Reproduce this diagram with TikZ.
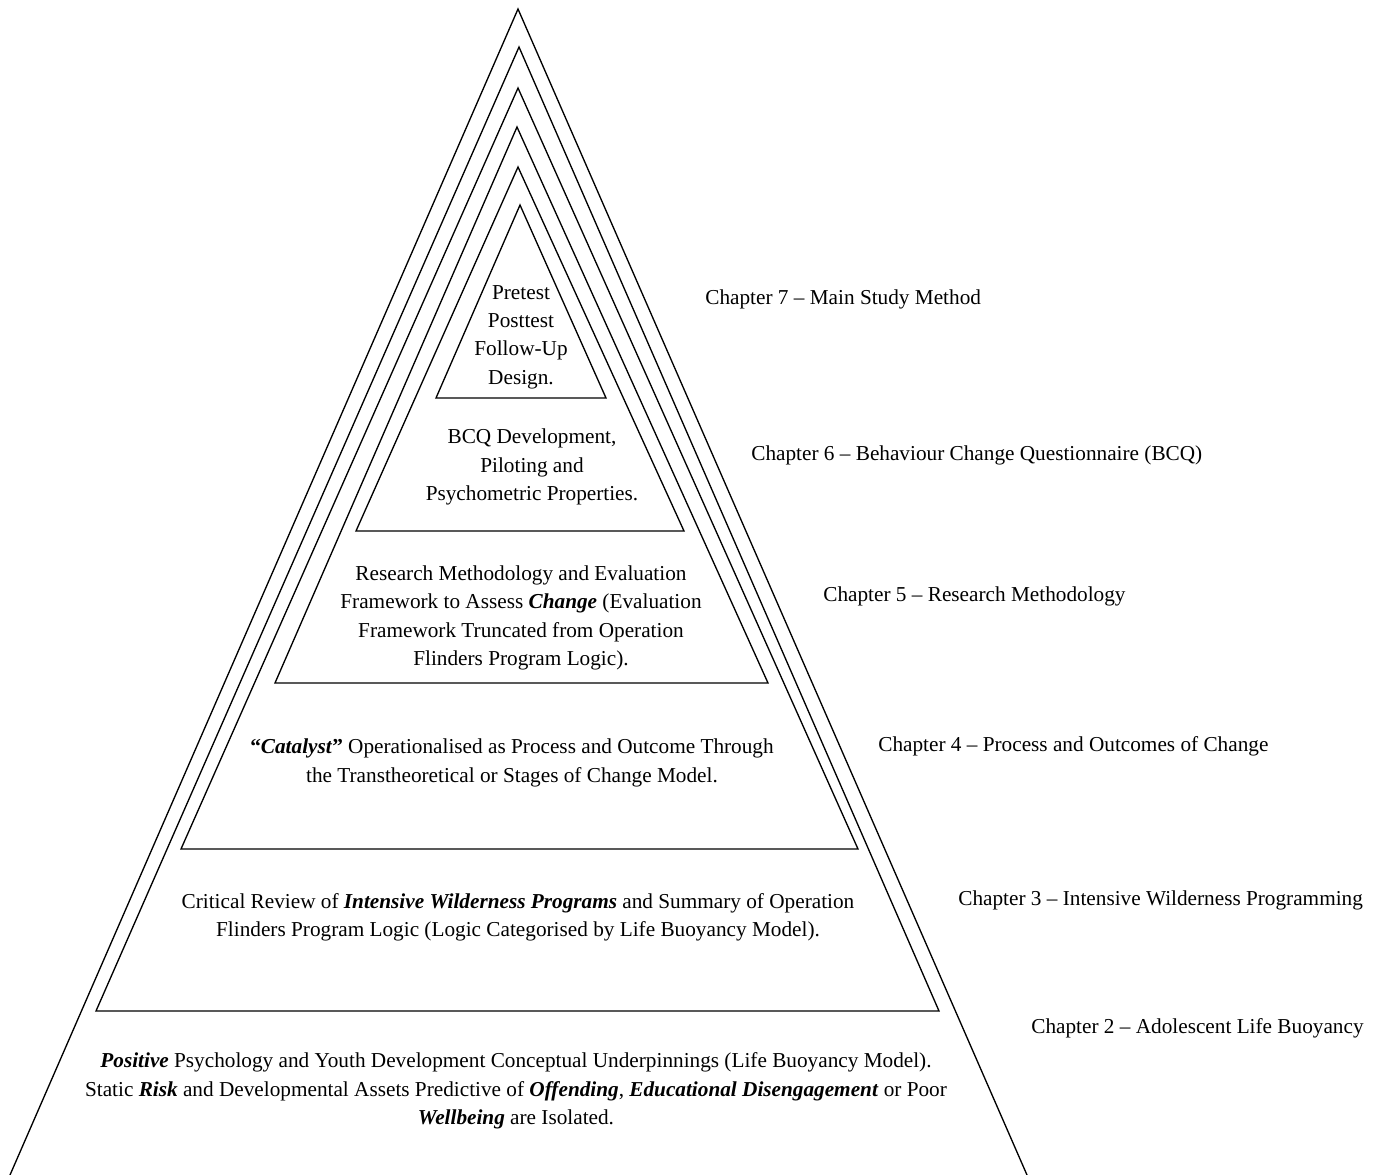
\documentclass[tikz,border=0pt]{standalone}
\usepackage{fontspec}
\setmainfont{Liberation Serif}
\newcommand\strongit[1]{\textbf{\textit{#1}}}
\begin{document}
\begin{tikzpicture}[x=0.5647pt,y=-0.5647pt,
  tier/.style={draw=black,line width=0.75pt,line join=miter},
  body/.style={align=center,font=\fontsize{12}{16}\selectfont,inner sep=0pt},
  chap/.style={anchor=west,font=\fontsize{12}{16}\selectfont,inner sep=0pt}]
\useasboundingbox (0,0) rectangle (1383,1175);

% nested pyramid tiers (outermost first, open at the bottom edge)
\draw[tier] (10,1175) -- (518,9) -- (1027,1175);
\draw[tier] (96,1011) -- (519,47) -- (939,1011) -- cycle;
\draw[tier] (181,849) -- (518,88) -- (858,849) -- cycle;
\draw[tier] (275,683) -- (517,127) -- (768,683) -- cycle;
\draw[tier] (356,531) -- (518,167) -- (684,531) -- cycle;
\draw[tier] (436,398) -- (520,205) -- (606,398) -- cycle;

% tier contents
\node[body] (t7) at (521,337) {Pretest\\Posttest\\Follow-Up\\Design.};
\node[body] (t6) at (532,467) {BCQ Development,\\Piloting and\\Psychometric Properties.};
\node[body] (t5) at (521,618) {Research Methodology and Evaluation\\Framework to Assess \strongit{Change} (Evaluation\\Framework Truncated from Operation\\Flinders Program Logic).};
\node[body] (t4) at (512,763) {\textbf{“}\strongit{Catalyst}\textbf{”} Operationalised as Process and Outcome Through\\the Transtheoretical or Stages of Change Model.};
\node[body] (t3) at (518,917) {Critical Review of \strongit{Intensive Wilderness Programs} and Summary of Operation\\Flinders Program Logic (Logic Categorised by Life Buoyancy Model).};
\node[body] (t2) at (516,1091) {\strongit{Positive} Psychology and Youth Development Conceptual Underpinnings (Life Buoyancy Model).\\Static \strongit{Risk} and Developmental Assets Predictive of \strongit{Offending}, \strongit{Educational Disengagement} or Poor\\\strongit{Wellbeing} are Isolated.};

% chapter labels
\node[chap] (c7) at (705,299) {Chapter 7 – Main Study Method};
\node[chap] (c6) at (751,455) {Chapter 6 – Behaviour Change Questionnaire (BCQ)};
\node[chap] (c5) at (823,596) {Chapter 5 – Research Methodology};
\node[chap] (c4) at (878,746) {Chapter 4 – Process and Outcomes of Change};
\node[chap] (c3) at (958,900) {Chapter 3 – Intensive Wilderness Programming};
\node[chap] (c2) at (1031,1028) {Chapter 2 – Adolescent Life Buoyancy};
\end{tikzpicture}
\end{document}
